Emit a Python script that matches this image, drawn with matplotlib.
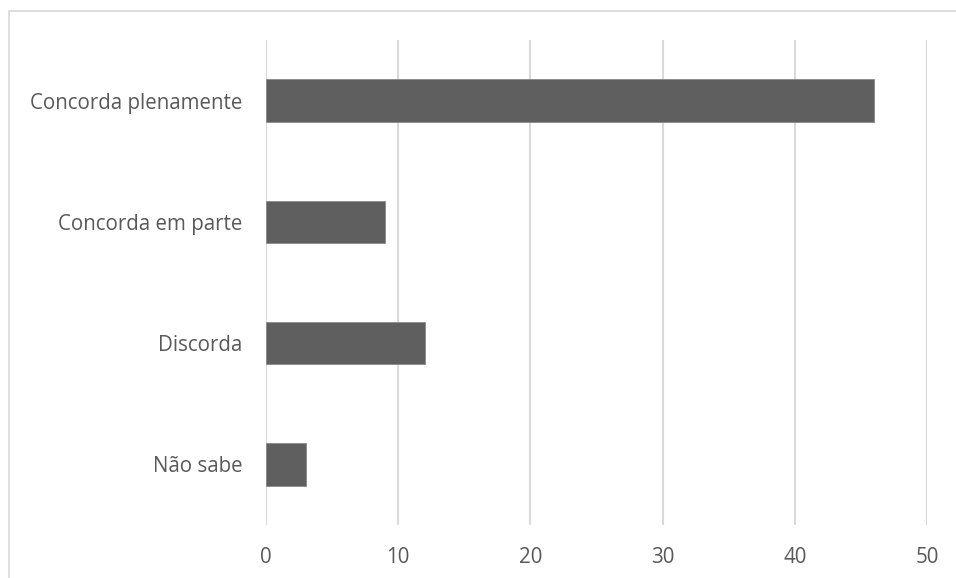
import matplotlib.pyplot as plt
from matplotlib.patches import Rectangle

# Survey answers and their counts
categories = ['Concorda plenamente', 'Concorda em parte', 'Discorda', 'Não sabe']
counts = [46, 9, 12, 3]
x_ticks = [0, 10, 20, 30, 40, 50]

plt.rcParams['font.family'] = ['Open Sans', 'DejaVu Sans']

fig = plt.figure(figsize=(9.56, 5.78), dpi=100)
W, H = 956, 578

# Light frame around the chart area (runs off the right and bottom edges)
fig.patches.append(Rectangle((9 / W, -0.1), 1.2, 1.1 - 11 / H, transform=fig.transFigure,
                             fill=False, edgecolor='#d9d9d9', linewidth=1.2))

ax = fig.add_axes([266 / W, 1 - 525 / H, (927 - 266) / W, (525 - 40) / H])

y_pos = list(range(len(categories)))
ax.barh(y_pos, counts, height=0.35, color='#5f5f5f', edgecolor='#8a8a8a', linewidth=0.6, zorder=3)

ax.set_ylim(len(categories) - 0.5, -0.5)
ax.set_xlim(0, 50)
ax.set_xticks(x_ticks)
ax.set_yticks(y_pos)
ax.set_yticklabels(categories)

ax.grid(axis='x', color='#d9d9d9', linewidth=1.5, zorder=0)
for side in ['top', 'right', 'bottom', 'left']:
    ax.spines[side].set_visible(False)

ax.tick_params(axis='both', length=0, labelsize=14.8, labelcolor='#595959')
ax.tick_params(axis='y', pad=17)
ax.tick_params(axis='x', pad=16)

fig.savefig('out.png', dpi=100)
